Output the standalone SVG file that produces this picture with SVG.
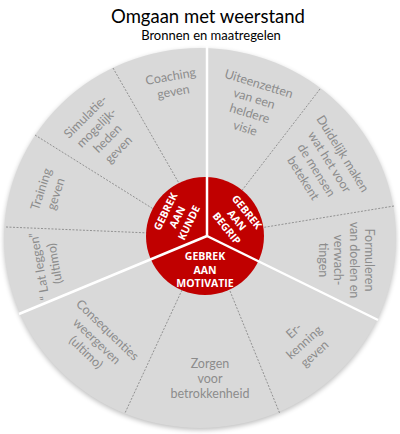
<svg xmlns="http://www.w3.org/2000/svg" width="400" height="434" viewBox="0 0 400 434">
<defs>
<filter id="sh" x="-10%" y="-10%" width="120%" height="120%"><feGaussianBlur stdDeviation="2.5"/></filter>
<style>
.seg{font-family:Lato,"Open Sans","Liberation Sans",sans-serif;font-size:12.5px;fill:#8c8c8c;text-anchor:middle}
.red{font-family:"Open Sans",Lato,"Liberation Sans",sans-serif;font-size:10.5px;font-weight:bold;fill:#ffffff;text-anchor:middle}
.dash{stroke:#7f7f7f;stroke-width:0.8;stroke-dasharray:2 1.5;fill:none}
.wht{stroke:#ffffff;stroke-width:2.5;fill:none}
</style>
</defs>
<rect width="400" height="434" fill="#ffffff"/>
<g id="title">
<text x="208" y="23" font-family="Lato,'Open Sans','Liberation Sans',sans-serif" font-size="18.5" fill="#000" text-anchor="middle">Omgaan met weerstand</text>
<text x="211" y="40" font-family="Lato,'Open Sans','Liberation Sans',sans-serif" font-size="13" fill="#000" text-anchor="middle">Bronnen en maatregelen</text>
</g>
<g id="wheel">
<ellipse cx="200" cy="240" rx="196" ry="190" fill="#000" opacity="0.25" filter="url(#sh)"/>
<ellipse cx="200" cy="238" rx="196" ry="190" fill="#d9d9d9"/>
</g>
<g id="connectors">
<line class="dash" x1="113" y1="68" x2="180" y2="185"/>
<line class="dash" x1="35" y1="135" x2="155" y2="210"/>
<line class="dash" x1="6" y1="227" x2="150" y2="233"/>
<line class="dash" x1="320" y1="89" x2="240" y2="193"/>
<line class="dash" x1="394" y1="206" x2="260" y2="228"/>
<line class="dash" x1="230" y1="291" x2="280" y2="414"/>
<line class="dash" x1="182" y1="290" x2="125" y2="413"/>
</g>
<g id="center">
<circle cx="205" cy="236" r="59" fill="#c00000"/>
<line class="wht" x1="207" y1="46" x2="207" y2="236"/>
<line class="wht" x1="207" y1="236" x2="19" y2="314"/>
<line class="wht" x1="207" y1="236" x2="378" y2="320"/>
</g>
<g id="kunde"><text class="red" transform="translate(177,217) rotate(-64)"><tspan x="0" y="-9">GEBREK</tspan><tspan x="0" y="4">AAN</tspan><tspan x="0" y="17">KUNDE</tspan></text></g>
<g id="begrip"><text class="red" transform="translate(237,220) rotate(51)"><tspan x="0" y="-9">GEBREK</tspan><tspan x="0" y="4">AAN</tspan><tspan x="0" y="17">BEGRIP</tspan></text></g>
<g id="motivatie"><text class="red"><tspan x="205" y="260">GEBREK</tspan><tspan x="205" y="273.5">AAN</tspan><tspan x="205" y="287">MOTIVATIE</tspan></text></g>
<g id="coaching"><text class="seg" transform="translate(172,84) rotate(-10)"><tspan x="0" y="-3.5">Coaching</tspan><tspan x="0" y="12">geven</tspan></text></g>
<g id="simulatie"><text class="seg" transform="translate(102,133) rotate(-45)"><tspan x="0" y="-19">Simulatie-</tspan><tspan x="0" y="-3.5">mogelijk-</tspan><tspan x="0" y="12">heden</tspan><tspan x="0" y="27.5">geven</tspan></text></g>
<g id="training"><text class="seg" transform="translate(48.5,191.5) rotate(-72)"><tspan x="0" y="-3.5">Training</tspan><tspan x="0" y="12">geven</tspan></text></g>
<g id="latleggen"><text class="seg" transform="translate(47,265) rotate(-100)"><tspan x="0" y="-3.5">“ Lat leggen”</tspan><tspan x="0" y="12">(ultimo)</tspan></text></g>
<g id="consequenties"><text class="seg" transform="translate(97,341) rotate(44)"><tspan x="0" y="-11">Consequenties</tspan><tspan x="0" y="4.5">weergeven</tspan><tspan x="0" y="20">(ultimo)</tspan></text></g>
<g id="zorgen"><text class="seg"><tspan x="210" y="368">Zorgen</tspan><tspan x="210" y="383">voor</tspan><tspan x="210" y="398">betrokkenheid</tspan></text></g>
<g id="erkenning"><text class="seg" transform="translate(304,342) rotate(-42)"><tspan x="0" y="-11">Er-</tspan><tspan x="0" y="4.5">kenning</tspan><tspan x="0" y="20">geven</tspan></text></g>
<g id="formuleren"><text class="seg" transform="translate(346,260) rotate(90)"><tspan x="0" y="-19">Formuleren</tspan><tspan x="0" y="-3.5">van doelen en</tspan><tspan x="0" y="12">verwach-</tspan><tspan x="0" y="27.5">tingen</tspan></text></g>
<g id="duidelijk"><text class="seg" transform="translate(323,166) rotate(58)"><tspan x="0" y="-19">Duidelijk maken</tspan><tspan x="0" y="-3.5">wat het voor</tspan><tspan x="0" y="12">de mensen</tspan><tspan x="0" y="27.5">betekent</tspan></text></g>
<g id="uiteenzetten"><text class="seg" transform="translate(252,106) rotate(17)"><tspan x="0" y="-19">Uiteenzetten</tspan><tspan x="0" y="-3.5">van een</tspan><tspan x="0" y="12">heldere</tspan><tspan x="0" y="27.5">visie</tspan></text></g>
</svg>
